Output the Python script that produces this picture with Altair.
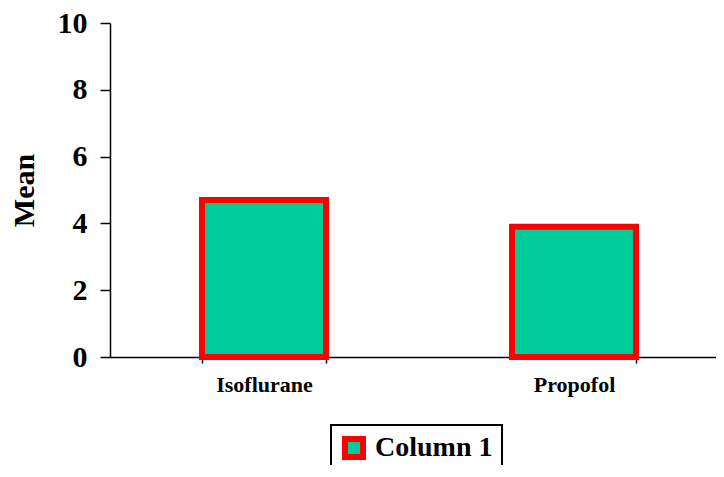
import altair as alt
import pandas as pd

categories = ["Isoflurane", "Propofol"]
means = [4.7, 3.9]
series = ["Column 1", "Column 1"]
y_ticks = [0, 2, 4, 6, 8, 10]

df = pd.DataFrame({"category": categories, "mean": means, "series": series})

FONT = "Liberation Serif"
FILL = "#00CC99"
EDGE = "#FF0000"

chart = alt.Chart(df).mark_bar(
    stroke=EDGE, strokeWidth=6, strokeJoin="miter"
).encode(
    x=alt.X(
        "category:N",
        sort=categories,
        title=None,
        scale=alt.Scale(paddingInner=0.6, paddingOuter=0.2774, align=0.535),
        axis=alt.Axis(
            labelAngle=0,
            labelFont=FONT,
            labelFontSize=22,
            labelFontWeight="bold",
            labelColor="black",
            labelPadding=11,
            tickBand="extent",
            tickSize=6,
            tickColor="black",
            tickWidth=1.5,
            domainColor="black",
            domainWidth=1.5,
        ),
    ),
    y=alt.Y(
        "mean:Q",
        title="Mean",
        scale=alt.Scale(domain=[0, 10], nice=False),
        axis=alt.Axis(
            values=y_ticks,
            grid=False,
            labelFont=FONT,
            labelFontSize=30,
            labelFontWeight="bold",
            labelColor="black",
            labelPadding=13,
            tickSize=10,
            tickColor="black",
            tickWidth=1.5,
            domainColor="black",
            domainWidth=1.5,
            titleFont=FONT,
            titleFontSize=30,
            titleFontWeight="bold",
            titleColor="black",
            titlePadding=18,
        ),
    ),
    color=alt.Color(
        "series:N",
        scale=alt.Scale(range=[FILL]),
        legend=alt.Legend(
            title=None,
            orient="none",
            legendX=221,
            legendY=402,
            direction="horizontal",
            symbolType="square",
            symbolSize=324,
            symbolStrokeColor=EDGE,
            symbolStrokeWidth=6,
            symbolFillColor=FILL,
            labelFont=FONT,
            labelFontSize=28,
            labelFontWeight="bold",
            labelColor="black",
            labelOffset=7,
            padding=9,
            strokeColor="black",
            fillColor="white",
        ),
    ),
).properties(
    width=606,
    height=334,
    autosize=alt.AutoSizeParams(type="none"),
    padding={"left": 102, "top": 15, "right": 0, "bottom": 108},
).configure_view(stroke=None).configure_legend(strokeWidth=2)

chart.save("out.html", embed_options={"renderer": "svg", "actions": False})
